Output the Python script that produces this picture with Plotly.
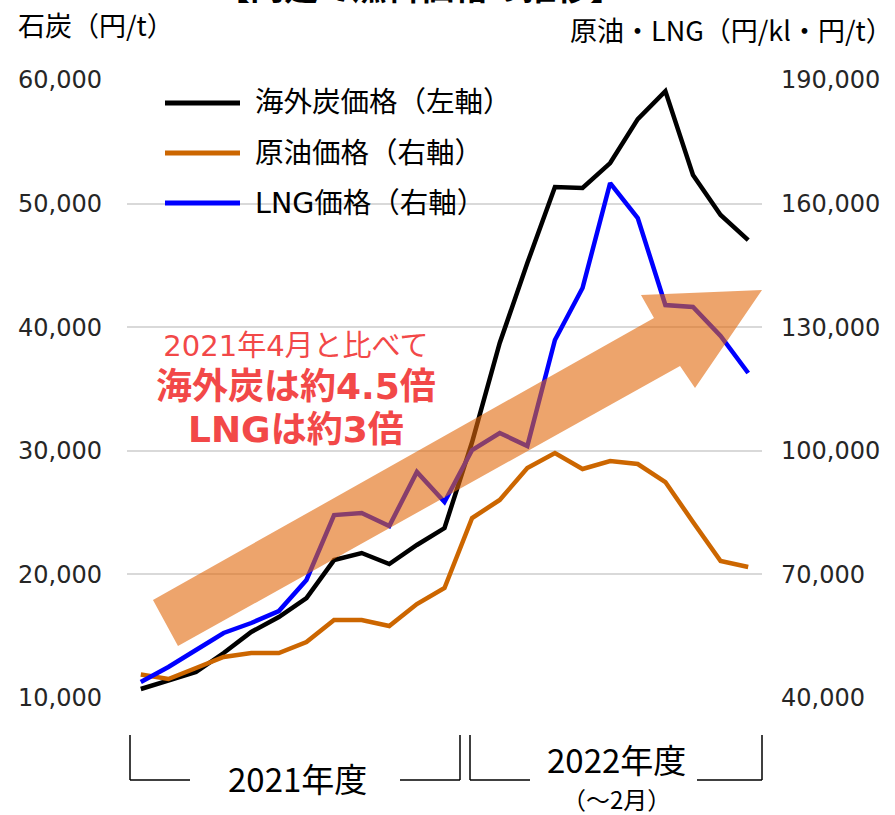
import plotly.graph_objects as go

# ---------------- data ----------------
months = ["2021-04", "2021-05", "2021-06", "2021-07", "2021-08", "2021-09",
          "2021-10", "2021-11", "2021-12", "2022-01", "2022-02", "2022-03",
          "2022-04", "2022-05", "2022-06", "2022-07", "2022-08", "2022-09",
          "2022-10", "2022-11", "2022-12", "2023-01", "2023-02"]

coal = [10730, 11370, 12100, 13640, 15340, 16550, 18090, 21160, 21730, 20840,
        22380, 23750, 30710, 38720, 45190, 51340, 51260, 53280, 56840, 59100,
        52320, 49080, 47050]

crude = [45700, 44610, 47280, 49950, 50920, 50920, 53590, 58930, 58930, 57470,
         62810, 66700, 83690, 88060, 95820, 99460, 95580, 97520, 96790, 92420,
         82720, 73250, 71790]

lng = [43880, 47520, 51650, 55780, 58200, 61110, 68640, 84410, 84900, 81740,
       94850, 87570, 100190, 104320, 101160, 126890, 139510, 164990, 156500,
       135380, 134900, 127860, 118880]

left_ticks = [10000, 20000, 30000, 40000, 50000, 60000]
right_ticks = [40000, 70000, 100000, 130000, 160000, 190000]

series_names = ["海外炭価格（左軸）", "原油価格（右軸）", "LNG価格（右軸）"]
fy_labels = ["2021年度", "2022年度", "（～2月）"]

# ---------------- layout helpers ----------------
W, H = 895, 815
L, R, T, B = 127, 133, 80, 117
PW, PH = W - L - R, H - T - B


def px(x):
    return (x - L) / PW


def py(y):
    return (H - B - y) / PH


CJK = "Noto Sans CJK JP"
MIX = "DejaVu Sans, Noto Sans CJK JP"
NUM = "DejaVu Sans"

fig = go.Figure()
fig.add_trace(go.Scatter(x=months, y=coal, mode="lines", name=series_names[0],
                         line=dict(color="#000000", width=4.5), yaxis="y",
                         showlegend=False))
fig.add_trace(go.Scatter(x=months, y=crude, mode="lines", name=series_names[1],
                         line=dict(color="#CC6600", width=4.5), yaxis="y2",
                         showlegend=False))
fig.add_trace(go.Scatter(x=months, y=lng, mode="lines", name=series_names[2],
                         line=dict(color="#0000FF", width=4.5), yaxis="y2",
                         showlegend=False))

shapes = []
annotations = []

# white background of the legend (covers gridlines)
shapes.append(dict(type="rect", xref="paper", yref="paper", layer="between",
                   x0=px(137), x1=px(527), y0=py(218), y1=py(74),
                   fillcolor="white", line=dict(width=0)))

# legend (manual)
leg_colors = ["#000000", "#CC6600", "#0000FF"]
for i, (nm, c) in enumerate(zip(series_names, leg_colors)):
    yy = 103 + 50 * i
    shapes.append(dict(type="line", xref="paper", yref="paper",
                       x0=px(165), x1=px(240), y0=py(yy), y1=py(yy),
                       line=dict(color=c, width=5)))
    annotations.append(dict(text=nm, xref="paper", yref="paper", x=px(253), y=py(yy),
                            xanchor="left", yanchor="middle", showarrow=False,
                            font=dict(family=MIX, size=28.5, color="#000000")))

# big semi-transparent arrow
pts = [(153, 600), (654, 318), (641, 295), (762, 290), (695, 388), (680, 366), (178, 646)]
path = "M " + " L ".join(f"{px(x):.4f},{py(y):.4f}" for x, y in pts) + " Z"
shapes.append(dict(type="path", xref="paper", yref="paper", path=path, layer="above",
                   fillcolor="rgba(225,103,10,0.6)", line=dict(width=0)))

# red comment text (one block, three lines)
red = "#F24848"
annotations.append(dict(
    text=("<span style='font-size:29px'>2021年4月と比べて</span><br>"
          "<span style='font-size:36px'><b>海外炭は約4.5倍</b></span><br>"
          "<span style='font-size:36px'><b>LNGは約3倍</b></span>"),
    xref="paper", yref="paper", x=px(296), y=py(389),
    xanchor="center", yanchor="middle", align="center",
    showarrow=False, font=dict(family=MIX, size=33, color=red)))

# axis titles
annotations.append(dict(text="石炭（円/t）", xref="paper", yref="paper",
                        x=px(16), y=py(25), xanchor="left", yanchor="middle",
                        showarrow=False, font=dict(family=CJK, size=27, color="#000000")))
annotations.append(dict(text="原油・LNG（円/kl・円/t）", xref="paper", yref="paper",
                        x=px(895), y=py(30), xanchor="right", yanchor="middle",
                        showarrow=False, font=dict(family=CJK, size=27, color="#000000")))

# cut-off title at the very top
annotations.append(dict(text="<b>【円建て燃料価格の推移】</b>", xref="paper", yref="paper",
                        x=px(420), y=py(11.5), xanchor="center", yanchor="bottom",
                        showarrow=False, font=dict(family=CJK, size=34, color="#000000")))

# fiscal-year brackets
blk = dict(color="#000000", width=1.5)


def seg(x0, y0, x1, y1):
    shapes.append(dict(type="line", xref="paper", yref="paper",
                       x0=px(x0), x1=px(x1), y0=py(y0), y1=py(y1), line=blk))


seg(130, 735, 130, 780); seg(130, 780, 190, 780)
seg(400, 780, 460, 780); seg(460, 780, 460, 735)
seg(470, 735, 470, 780); seg(470, 780, 530, 780)
seg(697, 780, 762, 780); seg(762, 780, 762, 735)

annotations.append(dict(text=fy_labels[0], xref="paper", yref="paper",
                        x=px(297), y=py(778), xanchor="center", yanchor="middle",
                        showarrow=False, font=dict(family=CJK, size=33, color="#000000")))
annotations.append(dict(
    text=(f"<span style='font-size:33px'>{fy_labels[1]}</span><br>"
          f"<span style='font-size:24px'>{fy_labels[2]}</span>"),
    xref="paper", yref="paper", x=px(616), y=py(775),
    xanchor="center", yanchor="middle", align="center",
    showarrow=False, font=dict(family=CJK, size=28, color="#000000")))

fig.update_layout(
    width=W, height=H,
    margin=dict(l=L, r=R, t=T, b=B, pad=0),
    paper_bgcolor="white", plot_bgcolor="white",
    showlegend=False,
    xaxis=dict(type="category", range=[-0.5, 22.5], showticklabels=False,
               showgrid=False, zeroline=False, showline=False, ticks=""),
    yaxis=dict(range=[10000, 60000], tickvals=left_ticks,
               ticktext=[f"{v:,}" for v in left_ticks],
               showgrid=True, gridcolor="#D9D9D9", gridwidth=1.5,
               zeroline=False, showline=False, ticks="",
               ticklabelstandoff=24,
               tickfont=dict(family=NUM, size=24, color="#262626")),
    yaxis2=dict(range=[40000, 190000], tickvals=right_ticks,
                ticktext=[f"{v:,}" for v in right_ticks],
                overlaying="y", side="right", showgrid=False,
                zeroline=False, showline=False, ticks="",
                ticklabelstandoff=18,
                tickfont=dict(family=NUM, size=24, color="#262626")),
    shapes=shapes,
    annotations=annotations,
)

fig.write_html("out.html", config={"displayModeBar": False},
               post_script="document.body.style.margin='0';")
